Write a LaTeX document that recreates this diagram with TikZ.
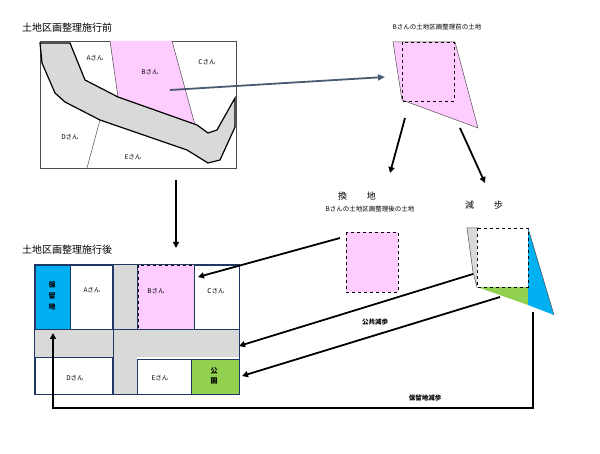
\documentclass[tikz,border=0pt]{standalone}
\usepackage{fontspec}
\setmainfont{Noto Sans CJK JP}
\usetikzlibrary{arrows.meta}
\definecolor{pinkB}{HTML}{FFCCFF}
\definecolor{roadg}{HTML}{D9D9D9}
\definecolor{navy}{HTML}{1F3864}
\definecolor{slate}{HTML}{4A5A70}
\definecolor{blueR}{HTML}{00B0F0}
\definecolor{greenP}{HTML}{92D050}
\tikzset{
  lbl/.style={font=\fontsize{6.5}{7}\selectfont, inner sep=0pt},
  ttl/.style={font=\fontsize{10}{11}\selectfont, inner sep=0pt, anchor=west},
  blk/.style={-{Triangle[length=6pt,width=6pt]}, line width=1.8pt, black},
  lot/.style={draw=navy, line width=0.6pt},
}
\begin{document}
\begin{tikzpicture}[x=1pt,y=-1pt]
\useasboundingbox (0,0) rectangle (600,454);
% --- before
\node[ttl] (t1) at (22,28) {土地区画整理施行前};
\draw[fill=white, draw=black!70, line width=0.6pt] (40,41) rectangle (236,168);
\fill[pinkB] (110,41) -- (172,41) -- (195,125) -- (118,97) -- cycle;
\draw[black!70, line width=0.5pt] (110,41) -- (118,97);
\draw[black!70, line width=0.5pt] (172,41) -- (195,125);
\draw[black!70, line width=0.5pt] (100,120) -- (87,168);
\draw[fill=roadg, line width=1.2pt] (40,43) -- (70,43) -- (85,80) -- (118,97) -- (197,125) -- (208,133) -- (217,130) -- (235,98) -- (235,127) -- (220,160) -- (208,163) -- (187,150) -- (100,120) -- (65,102) -- (55,93) -- (42,63) -- cycle;
\node[lbl] (a1) at (95,58) {Aさん};
\node[lbl] (b1) at (150,72) {Bさん};
\node[lbl] (c1) at (207,62) {Cさん};
\node[lbl] (d1) at (70,137) {Dさん};
\node[lbl] (e1) at (133,157) {Eさん};
\coordinate (bc) at (170,90);
\coordinate (bt) at (385,77);
\draw[-{Triangle[length=7pt,width=6pt]}, slate, line width=1.8pt] (bc) -- (bt);
% --- B's land before
\node[lbl] (t2) at (437,27) {Bさんの土地区画整理前の土地};
\draw[fill=pinkB, draw=black!70, line width=0.5pt] (393,42) -- (455,42) -- (478,128) -- (402,100) -- cycle;
\draw[dashed, line width=0.5pt] (402,42) rectangle (454,101);
\coordinate (p1) at (405,118); \coordinate (p2) at (390,173);
\coordinate (p3) at (460,128); \coordinate (p4) at (485,183);
\draw[blk] (p1) -- (p2);
\draw[blk] (p3) -- (p4);
\node[font=\fontsize{9}{10}\selectfont, inner sep=0pt] (kan) at (357,196) {換\hspace{2.2em}地};
\node[lbl] (t3) at (370,209) {Bさんの土地区画整理後の土地};
\node[font=\fontsize{9}{10}\selectfont, inner sep=0pt] (gen) at (484,205) {減\hspace{2.2em}歩};
\draw[fill=pinkB, dashed, line width=0.5pt] (346,232) rectangle (398,292);
% reduction shape
\draw[fill=roadg, draw=black!70, line width=0.5pt] (467,228) -- (478,228) -- (477,287) -- (473,272) -- cycle;
\fill[greenP] (477,287) -- (528,287) -- (528,305) -- cycle;
\fill[blueR] (528,228) -- (554,315) -- (528,305) -- cycle;
\draw[draw=black!70, line width=0.5pt] (528,228) -- (554,315);
\draw[fill=white, dashed, line width=0.5pt] (477,228) rectangle (528,287);
% --- after
\node[ttl] (t4) at (22,250) {土地区画整理施行後};
\fill[roadg] (35,329) rectangle (239,357);
\fill[roadg] (113,265) rectangle (137,394);
\draw[lot] (34,264) rectangle (239,394);
\draw[lot, fill=blueR] (35,265) rectangle (70,329);
\draw[lot, fill=white] (70,265) rectangle (112,329);
\draw[fill=pinkB, dashed, line width=0.5pt] (138,265) rectangle (194,329);
\draw[lot, fill=white] (194,265) rectangle (239,329);
\draw[lot, fill=white] (35,357) rectangle (112,394);
\draw[lot, fill=white] (137,359) rectangle (191,394);
\draw[lot, fill=greenP] (191,359) rectangle (239,394);
\draw[lot] (113,265) -- (113,394);
\draw[lot] (137,265) -- (137,329);
\draw[lot] (35,329) -- (239,329);
\node[lbl, align=center, font=\fontsize{7}{11}\selectfont\bfseries] (hr) at (52,296) {保\\留\\地};
\node[lbl] (a2) at (92,290) {Aさん};
\node[lbl] (b2) at (156,291) {Bさん};
\node[lbl] (c2) at (216,291) {Cさん};
\node[lbl] (d2) at (75,378) {Dさん};
\node[lbl] (e2) at (160,378) {Eさん};
\node[lbl, align=center, font=\fontsize{7}{10}\selectfont\bfseries] (pk) at (214,376) {公\\園};
% arrows
\coordinate (q1) at (176,180); \coordinate (q2) at (176,248);
\draw[blk] (q1) -- (q2);
\coordinate (r1) at (340,238); \coordinate (r2) at (198,277);
\draw[blk] (r1) -- (r2);
\coordinate (s1) at (473,274); \coordinate (s2) at (239,346);
\draw[blk] (s1) -- (s2);
\coordinate (u1) at (500,297); \coordinate (u2) at (242,376);
\draw[blk] (u1) -- (u2);
\node[lbl, font=\fontsize{6.5}{7}\selectfont\bfseries] (kk) at (375,322) {公共減歩};
\coordinate (v1) at (533,312); \coordinate (v2) at (53,333);
\draw[blk] (v1) -- (533,408) -- (53,408) -- (v2);
\node[lbl, font=\fontsize{6.5}{7}\selectfont\bfseries] (hg) at (425,398) {保留地減歩};
\end{tikzpicture}
\end{document}
